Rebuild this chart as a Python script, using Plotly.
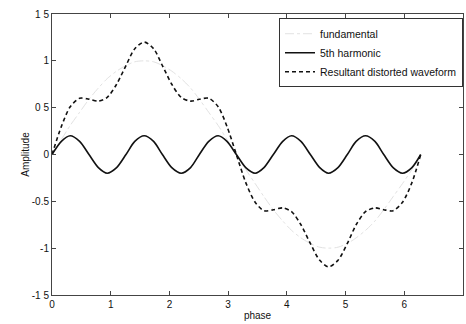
import plotly.graph_objects as go

phase = [0, 0.16, 0.31, 0.47, 0.63, 0.79, 0.94, 1.10, 1.26, 1.41, 1.57,
         1.73, 1.88, 2.04, 2.20, 2.36, 2.51, 2.67, 2.83, 2.98, 3.14,
         3.30, 3.46, 3.61, 3.77, 3.93, 4.08, 4.24, 4.40, 4.56, 4.71,
         4.87, 5.03, 5.18, 5.34, 5.50, 5.65, 5.81, 5.97, 6.13, 6.28]

fundamental = [0, 0.16, 0.31, 0.45, 0.59, 0.71, 0.81, 0.89, 0.95, 0.99, 1.0,
               0.99, 0.95, 0.89, 0.81, 0.71, 0.59, 0.45, 0.31, 0.16, 0,
               -0.16, -0.31, -0.45, -0.59, -0.71, -0.81, -0.89, -0.95, -0.99, -1.0,
               -0.99, -0.95, -0.89, -0.81, -0.71, -0.59, -0.45, -0.31, -0.16, 0]

harmonic5 = [0, 0.14, 0.2, 0.14, 0, -0.14, -0.2, -0.14,
             0, 0.14, 0.2, 0.14, 0, -0.14, -0.2, -0.14,
             0, 0.14, 0.2, 0.14, 0, -0.14, -0.2, -0.14,
             0, 0.14, 0.2, 0.14, 0, -0.14, -0.2, -0.14,
             0, 0.14, 0.2, 0.14, 0, -0.14, -0.2, -0.14, 0]

resultant = [0, 0.30, 0.51, 0.60, 0.59, 0.57, 0.61, 0.75, 0.95, 1.13, 1.2,
             1.13, 0.95, 0.75, 0.61, 0.57, 0.59, 0.60, 0.51, 0.30, 0,
             -0.30, -0.51, -0.60, -0.59, -0.57, -0.61, -0.75, -0.95, -1.13, -1.2,
             -1.13, -0.95, -0.75, -0.61, -0.57, -0.59, -0.60, -0.51, -0.30, 0]

y_tickvals = [-1.5, -1, -0.5, 0, 0.5, 1, 1.5]
y_ticktext = ["-1 5", "-1", "-0.5", "0", "0 5", "1", "1 5"]
x_tickvals = [0, 1, 2, 3, 4, 5, 6, 7]

fig = go.Figure()
fig.add_trace(go.Scatter(x=phase, y=fundamental, mode="lines", name="fundamental",
                         line=dict(color="#e2e2e2", width=1, dash="dashdot",
                                   shape="spline", smoothing=0.8)))
fig.add_trace(go.Scatter(x=phase, y=harmonic5, mode="lines", name="5th harmonic",
                         line=dict(color="#111111", width=1.6, shape="spline", smoothing=0.8)))
fig.add_trace(go.Scatter(x=phase, y=resultant, mode="lines", name="Resultant distorted waveform",
                         line=dict(color="#111111", width=1.6, dash="4px,3px",
                                   shape="spline", smoothing=0.8)))

fig.update_layout(
    width=466, height=324,
    margin=dict(l=52, r=3, t=14, b=29),
    paper_bgcolor="white", plot_bgcolor="white",
    font=dict(family="Liberation Sans, Arial, sans-serif", size=10, color="#111"),
    showlegend=True,
    legend=dict(x=1, y=0.985, xanchor="right", yanchor="top",
                bgcolor="white", bordercolor="#333", borderwidth=1,
                font=dict(size=10.5), tracegroupgap=0, itemwidth=30),
    xaxis=dict(range=[0, 7], tickvals=x_tickvals, ticks="inside", ticklen=4,
               showline=True, linecolor="#444", linewidth=1, mirror="ticks",
               showgrid=False, zeroline=False,
               title=dict(text="phase", font=dict(size=10), standoff=2)),
    yaxis=dict(range=[-1.5, 1.5], tickvals=y_tickvals, ticktext=y_ticktext,
               ticks="inside", ticklen=4,
               showline=True, linecolor="#444", linewidth=1, mirror="ticks",
               showgrid=False, zeroline=False,
               title=dict(text="Amplitude", font=dict(size=10), standoff=0)),
)

fig.write_html("out.html")
